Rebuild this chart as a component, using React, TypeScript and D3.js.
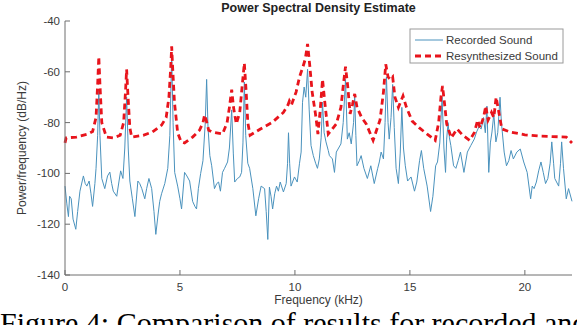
import React from "react";
import * as d3 from "d3";

const recFreq = [0.00,0.08,0.15,0.2,0.27,0.35,0.47,0.55,0.65,0.8,0.88,0.95,1.05,1.13,1.2,1.3,1.35,1.42,1.47,1.52,1.6,1.73,1.85,1.95,2.03,2.1,2.25,2.35,2.42,2.52,2.6,2.68,2.75,2.82,2.93,3.04,3.17,3.25,3.34,3.47,3.55,3.65,3.77,3.87,3.95,4.05,4.12,4.2,4.34,4.47,4.56,4.64,4.7,4.77,4.9,5.0,5.07,5.2,5.3,5.42,5.55,5.65,5.72,5.8,5.9,6.0,6.1,6.16,6.22,6.3,6.38,6.5,6.6,6.68,6.76,6.85,6.94,7.07,7.15,7.25,7.32,7.38,7.5,7.6,7.68,7.74,7.8,7.86,7.95,8.03,8.17,8.3,8.42,8.53,8.68,8.75,8.82,8.89,8.96,9.03,9.12,9.2,9.28,9.36,9.5,9.62,9.68,9.72,9.77,9.83,9.98,10.1,10.2,10.27,10.33,10.4,10.47,10.55,10.62,10.7,10.8,10.9,10.98,11.06,11.14,11.2,11.27,11.35,11.45,11.5,11.63,11.72,11.8,11.9,12.0,12.1,12.2,12.28,12.36,12.45,12.55,12.6,12.65,12.7,12.8,12.88,13.0,13.15,13.3,13.45,13.6,13.67,13.75,13.85,13.92,13.98,14.05,14.1,14.18,14.25,14.32,14.4,14.5,14.58,14.65,14.72,14.8,14.9,15.05,15.2,15.3,15.42,15.5,15.6,15.75,15.9,16.0,16.12,16.2,16.3,16.4,16.48,16.55,16.6,16.66,16.72,16.78,16.9,17.0,17.1,17.2,17.35,17.5,17.65,17.8,17.9,18.0,18.1,18.2,18.28,18.35,18.43,18.5,18.57,18.65,18.74,18.82,18.92,18.98,19.1,19.2,19.3,19.4,19.5,19.65,19.8,19.95,20.1,20.25,20.32,20.4,20.5,20.6,20.7,20.8,20.9,21.0,21.1,21.17,21.25,21.3,21.47,21.55,21.6,21.68,21.8,21.9,22.05];
const recPSD = [-105,-112,-117,-109,-110,-118,-122,-115,-107,-101,-104,-105,-103,-108,-113,-104,-98,-85,-67,-85,-102,-106,-101,-99.5,-104,-107,-109,-103,-99,-102,-90,-70,-90,-103,-110,-117,-103,-104,-106,-110,-106,-102,-106,-115,-124,-116,-111,-108,-104,-98,-85,-53,-80,-99.6,-105,-110,-114,-99.6,-101,-103,-111,-113,-114,-106,-100,-95,-80,-63,-82,-93,-97,-106,-104,-103.4,-107,-99.6,-98,-95.5,-90,-75,-92,-103.4,-102,-101.4,-99.6,-88,-64,-85,-96,-98,-106,-116.7,-110,-105,-106,-115,-126,-105.4,-109,-114,-108,-105,-107,-103.4,-107.3,-104,-96,-84,-96,-105,-101.4,-103.4,-96,-91.6,-72,-66,-70,-59,-75,-89,-93,-96,-98,-94.3,-86,-72,-84,-87.6,-91,-93,-94.3,-99.6,-91.6,-90,-88.4,-80,-63,-86.5,-84,-88.4,-80,-70,-85,-97,-95,-93,-98,-102,-97,-104,-98,-95.5,-91.6,-94.3,-80,-62,-80,-86.5,-78,-65,-82,-98,-104,-92,-74,-90,-97,-103,-101.4,-107,-103.4,-95,-91,-98,-105,-115,-109,-97,-95.5,-88,-70,-90,-99.6,-86.5,-80,-86,-89,-97,-98,-95,-91.6,-99.6,-91.6,-89,-86.5,-83.7,-81.7,-82.5,-78,-84,-73.5,-99.6,-88,-83.7,-76.6,-87.6,-84,-70,-80,-91.6,-97,-95,-91,-94.3,-91.6,-90.4,-95.5,-99.6,-110,-105,-106,-103.4,-99,-95.5,-99.6,-104,-102,-96,-87.6,-96,-102,-105,-96,-87.6,-98,-110,-106,-111];

const synFreq = [0.0,0.05,0.5,1.0,1.2,1.35,1.42,1.47,1.52,1.6,1.8,2.1,2.4,2.55,2.63,2.68,2.73,2.82,2.9,3.4,3.8,4.2,4.4,4.52,4.6,4.64,4.68,4.76,4.9,5.05,5.2,5.55,5.85,6.0,6.07,6.14,6.25,6.4,6.85,7.05,7.15,7.25,7.33,7.45,7.6,7.7,7.8,7.88,7.95,8.05,8.5,9.0,9.5,9.7,9.76,9.85,10.05,10.2,10.35,10.45,10.55,10.65,10.75,10.9,11.0,11.1,11.2,11.3,11.45,11.8,12.0,12.12,12.2,12.3,12.4,12.5,12.6,12.7,12.9,13.1,13.4,13.7,13.85,13.95,14.05,14.15,14.25,14.35,14.5,14.7,14.85,15.1,15.4,15.75,16.1,16.25,16.35,16.42,16.5,16.6,16.8,17.05,17.3,17.6,17.8,17.95,18.05,18.2,18.3,18.4,18.55,18.65,18.75,18.85,19.0,19.4,20.0,20.6,21.2,21.8,22.05];
const synPSD = [-88,-86,-85.7,-84.5,-83.5,-78,-65,-54,-65,-80,-85.7,-86,-85,-80,-68,-59,-68,-82,-85.7,-85,-83.7,-81,-78,-70,-58,-50,-58,-72,-84,-87.6,-88,-85.7,-83,-80,-77,-79,-83,-83.7,-84.5,-80,-74,-67,-74,-80.5,-76,-66,-56.6,-68,-80,-85,-82.5,-80,-76,-73,-71.5,-73,-68,-62,-58,-55,-49,-58,-68,-77,-84.5,-75,-63,-72,-84.5,-80.5,-74,-64,-58,-66,-76.6,-73,-68.7,-74,-78,-80.5,-87,-79,-68,-57,-62,-63,-62,-70,-74,-69.5,-74,-79.4,-82,-84.5,-87,-80,-70,-65.6,-72,-80.5,-86,-82.5,-85,-87,-84,-79,-82,-78,-73.5,-79,-76,-78,-70,-75,-82.5,-83.8,-84.8,-85.3,-85.5,-85.7,-88];

const xTicks = [0, 5, 10, 15, 20];
const yTicks = [-140, -120, -100, -80, -60, -40];
const seriesNames = ["Recorded Sound", "Resynthesized Sound"];

const W = 577, H = 325;
const L = 65, R = 572, T = 21, B = 275;
const FONT = "'Liberation Sans', Arial, Helvetica, sans-serif";
const TXT = "#3a3a3a";
const AX = "#6e6e6e";

export default function App() {
  const x = d3.scaleLinear().domain([0, 22.05]).range([L, R]);
  const y = d3.scaleLinear().domain([-140, -40]).range([B, T]);
  const rec = recFreq.map((f, i) => [f, recPSD[i]] as [number, number]);
  const syn = synFreq.map((f, i) => [f, synPSD[i]] as [number, number]);
  const line = d3.line<[number, number]>().x(d => x(d[0])).y(d => y(d[1]));
  const cx = (L + R) / 2;
  return (
    <svg width={W} height={H} style={{ position: "absolute", left: 0, top: 0, background: "#fff" }}>
      <rect x={0} y={0} width={W} height={H} fill="#fff" />
      <text x={cx} y={12} textAnchor="middle" fontFamily={FONT} fontWeight="bold" fontSize={12.5} fill="#222">Power Spectral Density Estimate</text>
      <path d={line(rec) || ""} fill="none" stroke="#4a92bd" strokeWidth={1} strokeLinejoin="round" />
      <path d={line(syn) || ""} fill="none" stroke="#e8141c" strokeWidth={2.8} strokeDasharray="6 4" />
      <line x1={L} x2={L} y1={T} y2={B} stroke={AX} strokeWidth={1} />
      <line x1={L} x2={R} y1={B} y2={B} stroke={AX} strokeWidth={1} />
      {yTicks.map(t => (
        <g key={"y" + t}>
          <line x1={L} x2={L + 5} y1={y(t)} y2={y(t)} stroke={AX} />
          <text x={L - 5} y={y(t) + 4} textAnchor="end" fontFamily={FONT} fontSize={11.5} fill={TXT}>{t}</text>
        </g>
      ))}
      {xTicks.map(t => (
        <g key={"x" + t}>
          <line x1={x(t)} x2={x(t)} y1={B} y2={B - 5} stroke={AX} />
          <text x={x(t)} y={B + 16} textAnchor="middle" fontFamily={FONT} fontSize={11.5} fill={TXT}>{t}</text>
        </g>
      ))}
      <text x={cx} y={B + 29} textAnchor="middle" fontFamily={FONT} fontSize={12} fill={TXT}>Frequency (kHz)</text>
      <text transform={`translate(26,${(T + B) / 2}) rotate(-90)`} textAnchor="middle" fontFamily={FONT} fontSize={12} fill={TXT}>Power/frequency (dB/Hz)</text>
      <g>
        <rect x={410} y={29} width={153} height={34} fill="#fff" stroke="#9a9a9a" strokeWidth={1} />
        <line x1={415} x2={443} y1={40} y2={40} stroke="#4a92bd" strokeWidth={1} />
        <line x1={415} x2={443} y1={56} y2={56} stroke="#e8141c" strokeWidth={2.8} strokeDasharray="6 4" />
        <text x={446} y={44} fontFamily={FONT} fontSize={11.5} fill={TXT}>{seriesNames[0]}</text>
        <text x={446} y={60} fontFamily={FONT} fontSize={11.5} fill={TXT}>{seriesNames[1]}</text>
      </g>
      <text x={0} y={333} fontFamily="'Liberation Serif', 'Times New Roman', serif" fontSize={30} fill="#000">Figure 4: Comparison of results for recorded and resynthesized sound</text>
    </svg>
  );
}
